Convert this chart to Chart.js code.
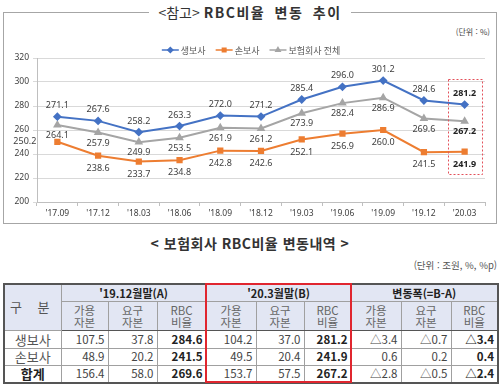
<!DOCTYPE html>
<html lang="ko">
<head>
<meta charset="utf-8">
<script src="https://cdn.jsdelivr.net/npm/chart.js@4.4.1/dist/chart.umd.min.js"></script>
<style>
    body { margin: 0; width: 500px; height: 385px; background: #fff; position: relative; overflow: hidden;
           font-family: "Noto Sans CJK KR", "Noto Sans", sans-serif; color: #333; }
    .chart-box { position: absolute; left: 3px; top: 12px; width: 492px; height: 210px; border: 1px solid #a6a6a6; }
    .title1 { position: absolute; left: 0; width: 500px; top: 2px; text-align: center; font-size: 14px; line-height: 20px; }
    .title1 span { background: #fff; padding: 0 9px; }
    .title1 b { letter-spacing: 1.5px; word-spacing: 4px; }
    .unit1 { position: absolute; right: 10px; top: 26px; font-size: 8px; color: #444; }
    .chart-wrap { position: absolute; left: 4px; top: 36px; width: 490px; height: 186px; }
    .title2 { position: absolute; left: 0; width: 500px; top: 233px; text-align: center; font-size: 14px; font-weight: bold; line-height: 20px; letter-spacing: 0.5px; }
    .unit2 { position: absolute; right: 3px; top: 258px; font-size: 9.5px; color: #555; }
    table { position: absolute; left: 3px; top: 283px; width: 494px; border-collapse: collapse; table-layout: fixed; border: 2px solid #555; }
    td, th { padding: 0; border: 1px solid #a0a0a0; overflow: hidden; white-space: nowrap; }
    th { background: #e2e6f3; font-weight: normal; color: #666; line-height: 14px; }
    .grp { font-weight: bold; color: #222; font-size: 11px; line-height: 14px; }
    .sub { font-size: 11.5px; line-height: 12px; }
    .gubun { font-size: 13px; color: #555; letter-spacing: 6px; }
    td { text-align: right; padding-right: 3px; font-size: 11.5px; color: #444; line-height: 15px; }
    td.name { text-align: center; padding-right: 0; font-size: 13px; color: #555; }
    td.total { font-weight: bold; color: #222; }
    td.strong { font-weight: bold; color: #222; }
    .head-end th { border-bottom: 1px solid #555; }
    .redbox { position: absolute; left: 205px; top: 283px; width: 143px; height: 96px; border: 2px solid #e0262f; }
</style>
</head>
<body>
<div class="chart-box"></div>
<div class="title1"><span>&lt;참고&gt; <b>RBC비율 변동 추이</b></span></div>
<div class="unit1">(단위 : %)</div>
<div class="chart-wrap"><canvas id="rbcChart"></canvas></div>
<div class="title2">&lt; 보험회사 RBC비율 변동내역 &gt;</div>
<div class="unit2">(단위 : 조원, %, %p)</div>
<table id="rbcTable"></table>
<div class="redbox"></div>

<script>
// chart data
const periods = ["'17.09", "'17.12", "'18.03", "'18.06", "'18.09", "'18.12", "'19.03", "'19.06", "'19.09", "'19.12", "'20.03"];
const lifeRatio = [271.1, 267.6, 258.2, 263.3, 272.0, 271.2, 285.4, 296.0, 301.2, 284.6, 281.2];
const nonLifeRatio = [250.2, 238.6, 233.7, 234.8, 242.8, 242.6, 252.1, 256.9, 260.0, 241.5, 241.9];
const totalRatio = [264.1, 257.9, 249.9, 253.5, 261.9, 261.2, 273.9, 282.4, 286.9, 269.6, 267.2];
const seriesNames = ['생보사', '손보사', '보험회사 전체'];
const yMin = 200, yMax = 320, yStep = 20;

// table data
const tableGroups = ["'19.12월말(A)", "'20.3월말(B)", '변동폭(=B-A)'];
const tableSubHeads = [['가용', '자본'], ['요구', '자본'], ['RBC', '비율']];
const tableRowNames = ['생보사', '손보사', '합계'];
const lifeRow = ['107.5', '37.8', '284.6', '104.2', '37.0', '281.2', '△3.4', '△0.7', '△3.4'];
const nonLifeRow = ['48.9', '20.2', '241.5', '49.5', '20.4', '241.9', '0.6', '0.2', '0.4'];
const totalRow = ['156.4', '58.0', '269.6', '153.7', '57.5', '267.2', '△2.8', '△0.5', '△2.4'];

document.addEventListener('DOMContentLoaded', function() {
    // build table
    const table = document.getElementById('rbcTable');
    const colWidths = [57, 47, 49, 49, 50, 48, 47, 50, 50, 47];
    let html = '<colgroup>' + colWidths.map(w => `<col style="width:${w}px">`).join('') + '</colgroup>';
    html += '<tr style="height:17px"><th rowspan="2" class="gubun">구 분</th>' +
        tableGroups.map(g => `<th colspan="3" class="grp">${g}</th>`).join('') + '</tr>';
    html += '<tr class="head-end" style="height:29px">' +
        tableGroups.map(() => tableSubHeads.map(s => `<th class="sub">${s[0]}<br>${s[1]}</th>`).join('')).join('') + '</tr>';
    const rows = [lifeRow, nonLifeRow, totalRow];
    const rowHeights = [18, 17, 18];
    rows.forEach((row, r) => {
        const isTotal = r === rows.length - 1;
        html += `<tr style="height:${rowHeights[r]}px"><td class="name${isTotal ? ' total' : ''}">${tableRowNames[r]}</td>`;
        row.forEach((v, c) => {
            html += `<td class="${c % 3 === 2 ? 'strong' : ''}">${v}</td>`;
        });
        html += '</tr>';
    });
    table.innerHTML = html;

    const lastIdx = periods.length - 1;
    const labelFont = '9px "Noto Sans", "Liberation Sans", sans-serif';

    // value labels next to the points
    const valueLabels = {
        id: 'valueLabels',
        afterDatasetsDraw(chart) {
            const ctx = chart.ctx;
            ctx.save();
            chart.data.datasets.forEach((ds, di) => {
                const meta = chart.getDatasetMeta(di);
                meta.data.forEach((pt, i) => {
                    const bold = i === lastIdx;
                    ctx.font = (bold ? 'bold ' : '') + labelFont;
                    ctx.fillStyle = bold ? '#222' : '#404040';
                    ctx.textBaseline = 'middle';
                    const place = ds.labelPlace(i);
                    const text = ds.data[i].toFixed(1);
                    if (place === 'left') {
                        ctx.textAlign = 'right';
                        ctx.fillText(text, pt.x - 21, pt.y);
                    } else if (place === 'above') {
                        ctx.textAlign = 'center';
                        ctx.fillText(text, pt.x, pt.y - 11);
                    } else {
                        ctx.textAlign = 'center';
                        ctx.fillText(text, pt.x, pt.y + ds.labelGap);
                    }
                });
            });
            ctx.restore();
        }
    };

    // dashed box around latest quarter + legend
    const extras = {
        id: 'extras',
        afterDraw(chart) {
            const ctx = chart.ctx;
            const x = chart.scales.x.getPixelForValue(lastIdx);
            const y = chart.scales.y;
            const top = y.getPixelForValue(lifeRatio[lastIdx]) - 26;
            const bottom = y.getPixelForValue(nonLifeRatio[lastIdx]) + 22;
            ctx.save();
            ctx.strokeStyle = '#e3505a';
            ctx.lineWidth = 1;
            ctx.setLineDash([2, 2]);
            ctx.strokeRect(Math.round(x - 17) + 0.5, Math.round(top) + 0.5, 34, Math.round(bottom - top));
            ctx.setLineDash([]);

            // legend
            ctx.font = '9px "Noto Sans CJK KR", sans-serif';
            ctx.textBaseline = 'middle';
            ctx.textAlign = 'left';
            const iconW = 17, gap = 2, spacing = 10;
            const widths = chart.data.datasets.map(ds => iconW + gap + ctx.measureText(ds.label).width);
            const total = widths.reduce((a, b) => a + b, 0) + spacing * (widths.length - 1);
            let lx = chart.width / 2 + 2 - total / 2;
            const ly = chart.chartArea.top - 8;
            chart.data.datasets.forEach((ds, i) => {
                ctx.strokeStyle = ds.borderColor;
                ctx.lineWidth = 1.5;
                ctx.beginPath();
                ctx.moveTo(lx, ly);
                ctx.lineTo(lx + iconW, ly);
                ctx.stroke();
                ctx.fillStyle = ds.borderColor;
                Chart.helpers.drawPoint(ctx, { pointStyle: ds.pointStyle, radius: 2.5, borderWidth: 1, rotation: 0 }, lx + iconW / 2, ly);
                ctx.fillStyle = '#595959';
                ctx.fillText(ds.label, lx + iconW + gap, ly + 0.5);
                lx += widths[i] + spacing;
            });
            ctx.restore();
        }
    };

    new Chart(document.getElementById('rbcChart'), {
        type: 'line',
        data: {
            labels: periods,
            datasets: [
                {
                    label: seriesNames[0], data: lifeRatio,
                    borderColor: '#4472c4', backgroundColor: '#4472c4',
                    borderWidth: 2, pointStyle: 'rectRot', pointRadius: 3, tension: 0,
                    labelPlace: () => 'above', labelGap: 11
                },
                {
                    label: seriesNames[1], data: nonLifeRatio,
                    borderColor: '#ed7d31', backgroundColor: '#ed7d31',
                    borderWidth: 2, pointStyle: 'rect', pointRadius: 3, tension: 0,
                    labelPlace: i => i === 0 ? 'left' : 'below', labelGap: 12.5
                },
                {
                    label: seriesNames[2], data: totalRatio,
                    borderColor: '#a5a5a5', backgroundColor: '#a5a5a5',
                    borderWidth: 2, pointStyle: 'triangle', pointRadius: 3, tension: 0,
                    labelPlace: () => 'below', labelGap: 10.5
                }
            ]
        },
        options: {
            responsive: true,
            maintainAspectRatio: false,
            animation: false,
            layout: { padding: { top: 22, right: 9, bottom: 0, left: 0 } },
            plugins: {
                legend: { display: false },
                tooltip: { enabled: false }
            },
            scales: {
                x: {
                    offset: true,
                    afterFit: s => { s.height = 20; },
                    grid: { offset: true, drawOnChartArea: false, drawTicks: true, tickLength: 4, color: '#bfbfbf' },
                    border: { color: '#bfbfbf' },
                    ticks: { padding: 2, color: '#404040', font: { size: 8.5, family: '"Noto Sans", sans-serif' }, maxRotation: 0 }
                },
                y: {
                    min: yMin, max: yMax,
                    afterFit: s => { s.width = 33; },
                    grid: { color: '#d9d9d9', tickLength: 4 },
                    border: { color: '#bfbfbf' },
                    ticks: { stepSize: yStep, padding: 4, color: '#404040', font: { size: 8.5, family: '"Noto Sans", sans-serif' } }
                }
            }
        },
        plugins: [valueLabels, extras]
    });
});
</script>
</body>
</html>
